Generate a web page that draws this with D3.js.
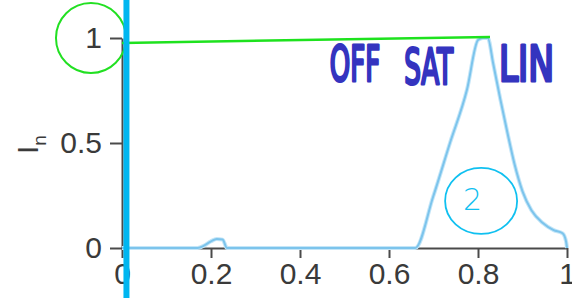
<!DOCTYPE html>
<html>
<head>
<meta charset="utf-8">
<script src="https://cdnjs.cloudflare.com/ajax/libs/d3/7.8.5/d3.min.js"></script>
<style>
body { margin: 0; background: #fff; }
svg { display: block; }
.axis text { font-family: "Liberation Sans", Arial, sans-serif; font-size: 30px; fill: #3a3a3a; }
.axis path, .axis line { stroke: #4a4a4a; stroke-width: 2; }
.hand { font-family: "DejaVu Sans Condensed", "DejaVu Sans", sans-serif; fill: #3434bf; stroke: #3434bf; stroke-width: 3; stroke-linejoin: round; stroke-linecap: round; }
</style>
</head>
<body>
<svg></svg>
<script>
const width = 572, height = 298;

// curve
const curveX = [0, 0.17, 0.185, 0.2, 0.213, 0.226, 0.236, 0.659, 0.699, 0.737, 0.775, 0.8, 0.811, 0.822, 0.834, 0.85, 0.866, 0.882, 0.9, 0.92, 0.945, 0.97, 0.99, 0.998, 1.0];
const curveY = [0, 0, 0.012, 0.032, 0.043, 0.04, 0, 0, 0.243, 0.5, 0.752, 0.99, 1.0, 1.0, 0.88, 0.71, 0.55, 0.4, 0.27, 0.18, 0.12, 0.085, 0.07, 0.03, 0];

const xTicks = [0, 0.2, 0.4, 0.6, 0.8, 1];
const xTickLabels = ["0", "0.2", "0.4", "0.6", "0.8", "1"];
const yTicks = [0, 0.5, 1];
const yTickLabels = ["0", "0.5", "1"];

// hand drawn notes
const noteWords = ["OFF", "SAT", "LIN"];
const noteX = [0.467, 0.634, 0.847];
const noteY = [0.795, 0.78, 0.795];
const noteW = [0.113, 0.11, 0.124];

const margin = {top: 38, right: 5, bottom: 50, left: 122};

const svg = d3.select("svg").attr("width", width).attr("height", height);

const x = d3.scaleLinear().domain([0, 1]).range([margin.left, width - margin.right]);
const y = d3.scaleLinear().domain([0, 1]).range([height - margin.bottom, margin.top]);

svg.append("g")
    .attr("class", "axis")
    .attr("transform", "translate(0," + y(0) + ")")
    .call(d3.axisBottom(x).tickValues(xTicks).tickFormat((d, i) => xTickLabels[i])
        .tickSize(10).tickSizeOuter(0).tickPadding(5));

svg.append("g")
    .attr("class", "axis")
    .attr("transform", "translate(" + x(0) + ",0)")
    .call(d3.axisLeft(y).tickValues(yTicks).tickFormat((d, i) => yTickLabels[i])
        .tickSize(12).tickSizeOuter(0).tickPadding(8));

// y label I_n
const yl = svg.append("text")
    .attr("transform", "translate(38,154) rotate(-90)")
    .style("font-family", "Liberation Sans, Arial, sans-serif")
    .style("font-size", "30px")
    .style("fill", "#3a3a3a");
yl.append("tspan").text("I");
yl.append("tspan").attr("dy", 8).style("font-size", "19px").text("n");

// curve
const pts = curveX.map((d, i) => [d, curveY[i]]);
const line = d3.line().x(d => x(d[0])).y(d => y(d[1])).curve(d3.curveMonotoneX);

svg.append("path")
    .datum(pts)
    .attr("d", line)
    .attr("fill", "none")
    .attr("stroke", "#c4e6f8")
    .attr("stroke-width", 4)
    .attr("stroke-linejoin", "round");
svg.append("path")
    .datum(pts)
    .attr("d", line)
    .attr("fill", "none")
    .attr("stroke", "#7cc4ec")
    .attr("stroke-width", 2)
    .attr("stroke-linejoin", "round");

// annotations
svg.append("circle")
    .attr("cx", x(-0.0697))
    .attr("cy", y(1.0))
    .attr("r", 35)
    .attr("fill", "none")
    .attr("stroke", "#22e022")
    .attr("stroke-width", 2);

svg.append("line")
    .attr("x1", x(0)).attr("y1", y(0.976))
    .attr("x2", x(0.827)).attr("y2", y(1.005))
    .attr("stroke", "#1ee21e")
    .attr("stroke-width", 2.5);

svg.append("line")
    .attr("x1", x(0.010)).attr("y1", 0)
    .attr("x2", x(0.010)).attr("y2", height)
    .attr("stroke", "#00b6f0")
    .attr("stroke-width", 6);

svg.selectAll(".hand")
    .data(noteWords)
    .enter()
    .append("text")
    .attr("class", "hand")
    .attr("x", (d, i) => x(noteX[i]))
    .attr("y", (d, i) => y(noteY[i]))
    .attr("textLength", (d, i) => x(noteW[i]) - x(0))
    .attr("lengthAdjust", "spacingAndGlyphs")
    .style("font-size", "50px")
    .text(d => d);

svg.append("ellipse")
    .attr("cx", x(0.807))
    .attr("cy", y(0.224))
    .attr("rx", 36)
    .attr("ry", 33)
    .attr("fill", "none")
    .attr("stroke", "#10c0f0")
    .attr("stroke-width", 1.8);

svg.append("text")
    .attr("x", x(0.788))
    .attr("y", y(0.18))
    .attr("text-anchor", "middle")
    .style("font-family", "DejaVu Sans, sans-serif")
    .style("font-size", "30px")
    .style("font-weight", "200")
    .style("fill", "#10c0f0")
    .text("2");
</script>
</body>
</html>
